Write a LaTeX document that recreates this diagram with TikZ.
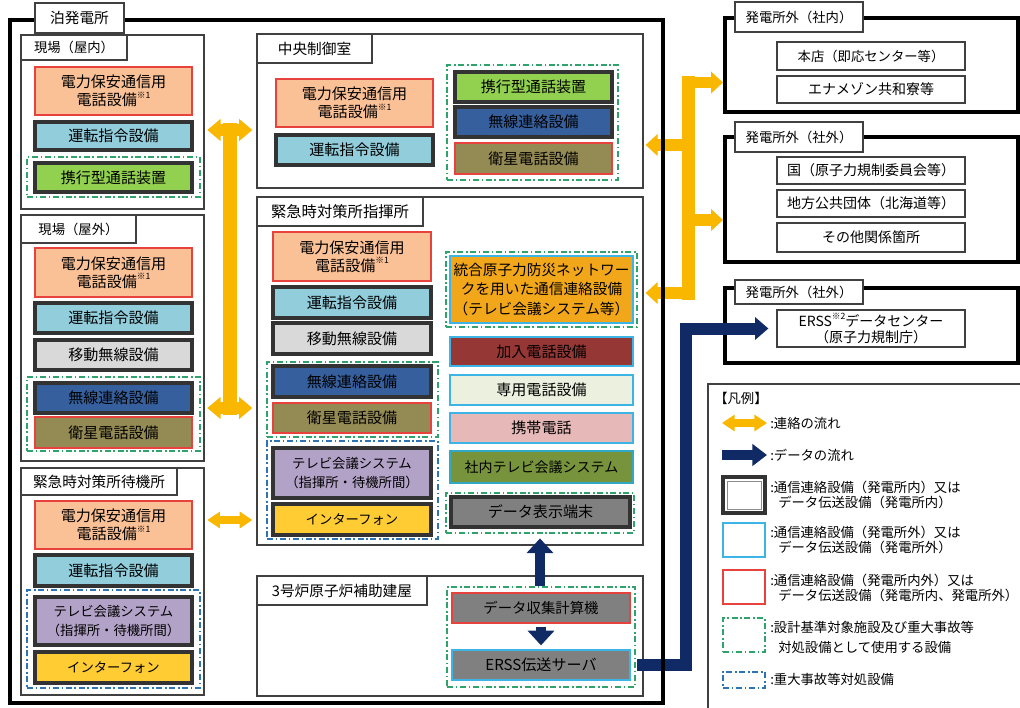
\documentclass[tikz,border=0pt]{standalone}
\usepackage{fontspec}
\setmainfont{Noto Sans CJK JP}
\usetikzlibrary{arrows.meta,calc}
\definecolor{cpeach}{HTML}{FAC096}
\definecolor{cred}{HTML}{E8423F}
\definecolor{clblue}{HTML}{92CDDC}
\definecolor{cdark}{HTML}{333333}
\definecolor{cgreenf}{HTML}{92D050}
\definecolor{cdblue}{HTML}{365F9E}
\definecolor{colive}{HTML}{948A54}
\definecolor{clgray}{HTML}{D9D9D9}
\definecolor{clav}{HTML}{B3A2C7}
\definecolor{cgold}{HTML}{FFCC33}
\definecolor{corange}{HTML}{F2A71B}
\definecolor{cmaroon}{HTML}{953735}
\definecolor{ccream}{HTML}{EBF1DE}
\definecolor{cpink}{HTML}{E6B9B8}
\definecolor{colgreen}{HTML}{77933C}
\definecolor{cgray}{HTML}{808080}
\definecolor{ccyan}{HTML}{3CB4E6}
\definecolor{cteal}{HTML}{33A8C4}
\definecolor{cyel}{HTML}{F9B700}
\definecolor{cnavy}{HTML}{102A66}
\definecolor{cgrn}{HTML}{2FA36B}
\definecolor{cblu}{HTML}{2E74B5}
\definecolor{cframe}{HTML}{404040}
\newcommand\fs[2]{\fontsize{#1}{#2}\selectfont}
\newcommand\myss[1]{\raisebox{0.5em}{\fontsize{6.5}{6.5}\selectfont #1}}
\newcommand\eqb[7]{%
  \pgfmathsetmacro\myX{(#2+#4)/2}%
  \pgfmathsetmacro\myY{(#3+#5)/2}%
  \pgfmathsetmacro\myW{(#4-#2)*0.75}%
  \pgfmathsetmacro\myH{(#5-#3)*0.75}%
  \node[#6, minimum width=\myW pt, minimum height=\myH pt] (#1) at (\myX,\myY) {#7};%
}
\begin{document}
\begin{tikzpicture}[x=0.75pt,y=-0.75pt,
  sub/.style={draw=cframe, line width=0.9pt, fill=white, inner sep=0pt},
  tabb/.style={draw=cframe, line width=0.9pt, fill=white, inner sep=0pt, font=\fs{11}{13}},
  eq/.style={line width=2pt, align=center, inner sep=0pt, font=\fs{11.3}{13.5}, text=black},
  rb/.style={eq, draw=cred},
  db/.style={eq, draw=cdark, line width=2.3pt},
  cb/.style={eq, draw=ccyan},
  gg/.style={draw=cgrn, line width=1.1pt, dash pattern=on 4.5pt off 2pt on 1.2pt off 2pt, inner sep=0pt},
  bg/.style={draw=cblu, line width=1.1pt, dash pattern=on 4.5pt off 2pt on 1.2pt off 2pt, inner sep=0pt},
  bigframe/.style={draw=black, line width=3pt, inner sep=0pt},
  extin/.style={draw=cframe, line width=0.9pt, fill=white, inner sep=0pt, font=\fs{10.5}{12.5}, align=center},
  lgtxt/.style={anchor=west, inner sep=0pt, font=\fs{10}{12}},
  ybar/.style={draw=cyel, line width=10pt, line cap=rect},
  ydbl/.style={draw=cyel, line width=9pt, {Triangle[width=16pt,length=10pt]}-{Triangle[width=16pt,length=10pt]}},
  ysm/.style={draw=cyel, line width=6pt, {Triangle[width=12pt,length=9.5pt]}-{Triangle[width=12pt,length=9.5pt]}},
  yone/.style={draw=cyel, line width=8.5pt, -{Triangle[width=16pt,length=9pt]}},
  nbig/.style={draw=cnavy, line width=9pt, line join=miter, -{Triangle[width=16.5pt,length=10pt]}},
  nup/.style={draw=cnavy, line width=8pt, -{Triangle[width=19.5pt,length=11pt]}},
  nlg/.style={draw=cnavy, line width=8pt, -{Triangle[width=16pt,length=11pt]}}
]
\useasboundingbox (0,0) rectangle (1020,707);
\fill[white] (0,0) rectangle (1020,707);

% ---- sub frames
\eqb{g1}{21}{35}{204}{209}{sub}{}
\eqb{g2}{21}{215}{204}{461}{sub}{}
\eqb{g3}{21}{468}{204}{695}{sub}{}
\eqb{cc}{257}{34}{643}{188}{sub}{}
\eqb{ec}{257}{197}{643}{545}{sub}{}
\eqb{ab}{257}{576}{643}{696}{sub}{}

% ---- groups
\eqb{gg1}{27}{157}{200}{197}{gg}{}
\eqb{gg2}{27}{377}{200}{451}{gg}{}
\eqb{bg3}{27}{590}{200}{688}{bg}{}
\eqb{gg4}{447}{65}{618}{180}{gg}{}
\eqb{gg5}{267}{362}{438}{437}{gg}{}
\eqb{bg5}{267}{441}{438}{539}{bg}{}
\eqb{gg6}{446}{252}{637}{327}{gg}{}
\eqb{gg7}{446}{493}{634}{533}{gg}{}
\eqb{gg8}{447}{587}{635}{687}{gg}{}

% ---- 現場(屋内)
\eqb{pw1}{35}{67}{192}{115}{rb, fill=cpeach}{電力保安通信用\\電話設備\myss{※1}}
\eqb{op1}{35}{122}{192}{150}{db, fill=clblue}{運転指令設備}
\eqb{pt1}{35}{163}{192}{192}{db, fill=cgreenf}{携行型通話装置}
% ---- 現場(屋外)
\eqb{pw2}{35}{248}{192}{297}{rb, fill=cpeach}{電力保安通信用\\電話設備\myss{※1}}
\eqb{op2}{35}{303}{192}{333}{db, fill=clblue}{運転指令設備}
\eqb{mr2}{35}{340}{192}{370}{db, fill=clgray}{移動無線設備}
\eqb{wr2}{35}{383}{192}{413}{db, fill=cdblue}{無線連絡設備}
\eqb{st2}{35}{417}{192}{448}{rb, fill=colive}{衛星電話設備}
% ---- 待機所
\eqb{pw3}{35}{501}{192}{549}{rb, fill=cpeach}{電力保安通信用\\電話設備\myss{※1}}
\eqb{op3}{35}{555}{192}{586}{db, fill=clblue}{運転指令設備}
\eqb{tv3}{35}{597}{192}{645}{db, fill=clav, font=\fs{10}{14}}{テレビ会議システム\\（指揮所・待機所間）}
\eqb{ip3}{35}{652}{192}{683}{db, fill=cgold, font=\fs{10}{12}}{インターフォン}
% ---- 中央制御室
\eqb{pw4}{276}{79}{433}{127}{rb, fill=cpeach}{電力保安通信用\\電話設備\myss{※1}}
\eqb{op4}{276}{135}{433}{165}{db, fill=clblue}{運転指令設備}
\eqb{pt4}{455}{72}{612}{102}{db, fill=cgreenf}{携行型通話装置}
\eqb{wr4}{455}{107}{612}{137}{db, fill=cdblue}{無線連絡設備}
\eqb{st4}{455}{143}{612}{174}{rb, fill=colive}{衛星電話設備}
% ---- 指揮所
\eqb{pw5}{273}{232}{431}{281}{rb, fill=cpeach}{電力保安通信用\\電話設備\myss{※1}}
\eqb{op5}{273}{287}{431}{318}{db, fill=clblue}{運転指令設備}
\eqb{mr5}{273}{323}{431}{354}{db, fill=clgray}{移動無線設備}
\eqb{wr5}{273}{366}{431}{397}{db, fill=cdblue}{無線連絡設備}
\eqb{st5}{273}{403}{431}{433}{rb, fill=colive}{衛星電話設備}
\eqb{tv5}{273}{448}{431}{498}{db, fill=clav, font=\fs{10}{14}}{テレビ会議システム\\（指揮所・待機所間）}
\eqb{ip5}{273}{504}{431}{535}{db, fill=cgold, font=\fs{10}{12}}{インターフォン}
\eqb{nw5}{450}{256}{633}{323}{cb, fill=corange, font=\fs{11}{14.5}}{統合原子力防災ネットワー\\クを用いた通信連絡設備\\（テレビ会議システム等）}
\eqb{sub5}{450}{337}{633}{366}{cb, fill=cmaroon}{加入電話設備}
\eqb{ded5}{450}{375}{633}{405}{cb, fill=ccream}{専用電話設備}
\eqb{mob5}{450}{413}{633}{443}{cb, fill=cpink}{携帯電話}
\eqb{tvc5}{450}{451}{633}{483}{eq, draw=cteal, fill=colgreen, font=\fs{10.5}{12}}{社内テレビ会議システム}
\eqb{dsp5}{451}{497}{630}{527}{db, fill=cgray}{データ表示端末}
% ---- 3号炉
\eqb{dac}{452}{593}{630}{623}{rb, fill=cgray, font=\fs{10.8}{12}}{データ収集計算機}
\eqb{ers}{452}{650}{630}{680}{cb, fill=cgray}{ERSS伝送サーバ}

% ---- tabs
\eqb{t1}{21}{35}{127}{60}{tabb, font=\fs{10}{12}}{現場（屋内）}
\eqb{t2}{21}{215}{136}{243}{tabb, font=\fs{10}{12}}{現場（屋外）}
\eqb{t3}{21}{468}{177}{495}{tabb}{緊急時対策所待機所}
\eqb{t4}{257}{34}{372}{63}{tabb}{中央制御室}
\eqb{t5}{257}{197}{423}{226}{tabb, font=\fs{11.5}{13}}{緊急時対策所指揮所}
\eqb{t6}{257}{576}{427}{605}{tabb}{3号炉原子炉補助建屋}

% ---- external
\eqb{ext1}{725}{18}{1018}{112}{bigframe}{}
\eqb{et1}{735}{2}{863}{32}{tabb, font=\fs{10}{12}}{発電所外（社内）}
\eqb{hq}{777}{42}{965}{70}{extin, font=\fs{10}{12}}{本店（即応センター等）}
\eqb{ena}{777}{76}{965}{103}{extin}{エナメゾン共和寮等}
\eqb{ext2}{725}{137}{1018}{262}{bigframe}{}
\eqb{et2}{735}{122}{863}{152}{tabb, font=\fs{10}{12}}{発電所外（社外）}
\eqb{kuni}{777}{157}{965}{184}{extin}{国（原子力規制委員会等）}
\eqb{chiho}{777}{190}{965}{217}{extin}{地方公共団体（北海道等）}
\eqb{other}{777}{223}{965}{252}{extin}{その他関係箇所}
\eqb{ext3}{725}{288}{1018}{363}{bigframe}{}
\eqb{et3}{735}{280}{863}{304}{tabb, font=\fs{10}{12}}{発電所外（社外）}
\eqb{ersdc}{777}{310}{965}{347}{extin, font=\fs{10.5}{12.5}}{ERSS\myss{※2}データセンター\\（原子力規制庁）}

% ---- legend
\eqb{leg}{708}{384}{1030}{730}{draw=cframe, line width=0.8pt, inner sep=0pt}{}
\node[lgtxt] (lgt) at (714,398) {【凡例】};
\coordinate (lya) at (722,423); \coordinate (lyb) at (767,423);
\draw[ysm] (lya) -- (lyb);
\coordinate (lna) at (722,455); \coordinate (lnb) at (767,455);
\draw[nlg] (lna) -- (lnb);
\eqb{lk}{723}{477}{765}{513}{draw=cdark, line width=2.4pt}{}
\eqb{lki}{727}{481}{761}{509}{draw=black!45, line width=0.7pt}{}
\eqb{lc}{723}{523}{765}{557}{draw=ccyan, line width=2pt}{}
\eqb{lr}{723}{570}{765}{604}{draw=cred, line width=2pt}{}
\eqb{lg}{723}{618}{765}{652}{gg}{}
\eqb{lb}{723}{672}{765}{688}{bg}{}
\node[lgtxt] (l1) at (770,423) {:連絡の流れ};
\node[lgtxt] (l2) at (770,455) {:データの流れ};
\node[lgtxt] (l3a) at (770,487) {:通信連絡設備（発電所内）又は};
\node[lgtxt] (l3b) at (778,502) {データ伝送設備（発電所内）};
\node[lgtxt] (l4a) at (770,532) {:通信連絡設備（発電所外）又は};
\node[lgtxt] (l4b) at (778,547) {データ伝送設備（発電所外）};
\node[lgtxt] (l5a) at (770,580) {:通信連絡設備（発電所内外）又は};
\node[lgtxt] (l5b) at (778,595) {データ伝送設備（発電所内、発電所外）};
\node[lgtxt] (l6a) at (770,627) {:設計基準対象施設及び重大事故等};
\node[lgtxt] (l6b) at (778,647) {対処設備として使用する設備};
\node[lgtxt] (l7) at (770,679) {:重大事故等対処設備};

% ---- yellow arrows (left)
\coordinate (ya) at (230,130);
\coordinate (yb) at (230,408);
\draw[ybar] (ya) -- (yb);
\draw[ydbl] ([xshift=2pt]g1.east |- ya) -- ([xshift=-3pt]cc.west |- ya);
\draw[ydbl] ([xshift=2pt]g2.east |- yb) -- ([xshift=-3pt]ec.west |- yb);
\coordinate (yc) at (230,520);
\draw[ysm] ([xshift=2pt]g3.east |- yc) -- ([xshift=-3pt]ec.west |- yc);

% ---- yellow arrows (right)
\coordinate (yr1) at (688,82.5);
\coordinate (yr2) at (688,293);
\coordinate (yr3) at (688,145);
\coordinate (yr4) at (688,220);
\draw[ybar, line width=9.75pt] (yr1) -- (yr2);
\draw[yone] (yr1) -- (ext1.west |- yr1);
\draw[yone] (yr3) -- ([xshift=1.5pt]cc.east |- yr3);
\draw[yone] (yr4) -- (ext2.west |- yr4);
\draw[yone] (yr2) -- ([xshift=1.5pt]ec.east |- yr2);

% ---- navy data arrows
\coordinate (nvx) at (686,0);
\draw[nbig] ([xshift=1pt]gg8.east |- ers.east) -| (nvx |- ersdc.west) -- ([xshift=-6pt]ersdc.west);
\draw[nup] (gg8.north -| gg7.south) -- ([yshift=-3.5pt]gg7.south);
\draw[nup] ([yshift=-2pt]dac.south) -- ([yshift=2.5pt]ers.north);

% ---- main frame
\eqb{tomari}{10}{20}{663}{703}{bigframe}{}
\eqb{t0}{35}{3}{124}{33}{tabb}{泊発電所}
\end{tikzpicture}
\end{document}
